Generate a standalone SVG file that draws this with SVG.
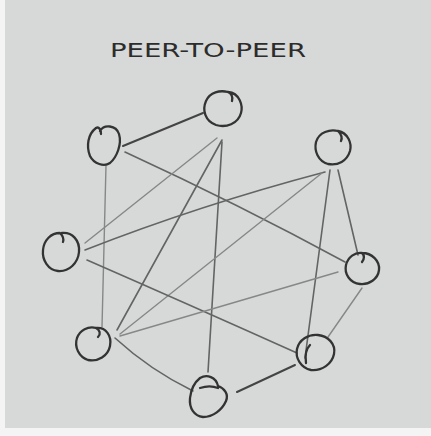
<svg xmlns="http://www.w3.org/2000/svg" width="431" height="436" viewBox="0 0 431 436">
<style>
.paper{fill:#d7d9d8}
.title{font-family:"DejaVu Sans Condensed","DejaVu Sans",sans-serif;font-size:19px;fill:#2c2c2c}
.node{fill:none;stroke:#333;stroke-width:2.3;stroke-linecap:round;stroke-linejoin:round}
.e{fill:none;stroke-linecap:round}
.dark{stroke:#444;stroke-width:2}
.mid{stroke:#636464;stroke-width:1.6}
.light{stroke:#868888;stroke-width:1.4}
</style>
<rect x="0" y="0" width="431" height="436" fill="#f4f4f4"/>
<rect class="paper" x="5" y="0" width="426" height="428"/>
<text class="title" x="110" y="57" textLength="196" lengthAdjust="spacingAndGlyphs">PEER-TO-PEER</text>
<g id="connectors">
<path class="e dark" d="M123,146 L203,113"/>
<path class="e mid" d="M125,152 Q240,205 345,262"/>
<path class="e light" d="M106,165 L102,327"/>
<path class="e mid" d="M222,140 L117,330"/>
<path class="e light" d="M217,138 L85,243"/>
<path class="e mid" d="M222,142 L208,372"/>
<path class="e mid" d="M325,172 Q200,205 85,250"/>
<path class="e light" d="M322,173 L120,334"/>
<path class="e mid" d="M330,170 L305,358"/>
<path class="e mid" d="M338,170 L358,255"/>
<path class="e mid" d="M87,260 Q190,305 297,353"/>
<path class="e light" d="M338,272 L120,336"/>
<path class="e light" d="M362,288 L328,337"/>
<path class="e mid" d="M115,338 Q150,370 193,391"/>
<path class="e dark" d="M295,365 L237,392"/>
</g>
<g id="node-top">
<path class="node" d="M228,92 C240,93 243,106 241,113 C238,124 226,128 216,125 C205,121 202,110 206,101 C210,92 220,90 228,92 C232,94 233,97 232,101"/>
</g>
<g id="node-upper-left">
<path class="node" d="M100,131 C104,124 116,125 119,134 C122,144 117,157 110,163 C104,167 94,164 90,156 C86,146 88,134 96,128 C99,126 101,130 101,134"/>
</g>
<g id="node-upper-right">
<path class="node" d="M338,131 C348,133 352,143 350,151 C347,161 338,166 328,164 C318,161 314,151 316,142 C319,132 330,129 338,131 C341,134 343,137 341,141"/>
</g>
<g id="node-left">
<path class="node" d="M62,233 C72,232 80,240 79,252 C78,263 69,272 58,271 C48,270 42,260 43,250 C44,240 51,233 60,233 C63,236 64,239 63,242"/>
</g>
<g id="node-right">
<path class="node" d="M362,253 C372,253 380,261 379,270 C378,279 369,285 360,284 C350,283 344,274 346,265 C348,257 355,252 362,253 C364,255 365,258 362,262"/>
</g>
<g id="node-lower-left">
<path class="node" d="M96,328 C106,327 112,336 110,346 C108,356 98,362 88,360 C79,357 74,347 77,338 C80,330 88,326 96,328 C100,330 101,334 98,337"/>
</g>
<g id="node-lower-right">
<path class="node" d="M318,335 C328,336 336,344 334,354 C332,364 322,371 311,370 C301,368 295,358 297,349 C299,340 308,334 318,335 M310,345 C306,349 305,356 306,363"/>
</g>
<g id="node-bottom">
<path class="node" d="M200,378 C207,374 216,377 218,386 C224,388 229,394 226,401 C222,410 213,417 203,417 C194,416 189,408 190,398 C191,389 195,382 200,378 M200,388 C206,386 213,386 218,388"/>
</g>
</svg>
